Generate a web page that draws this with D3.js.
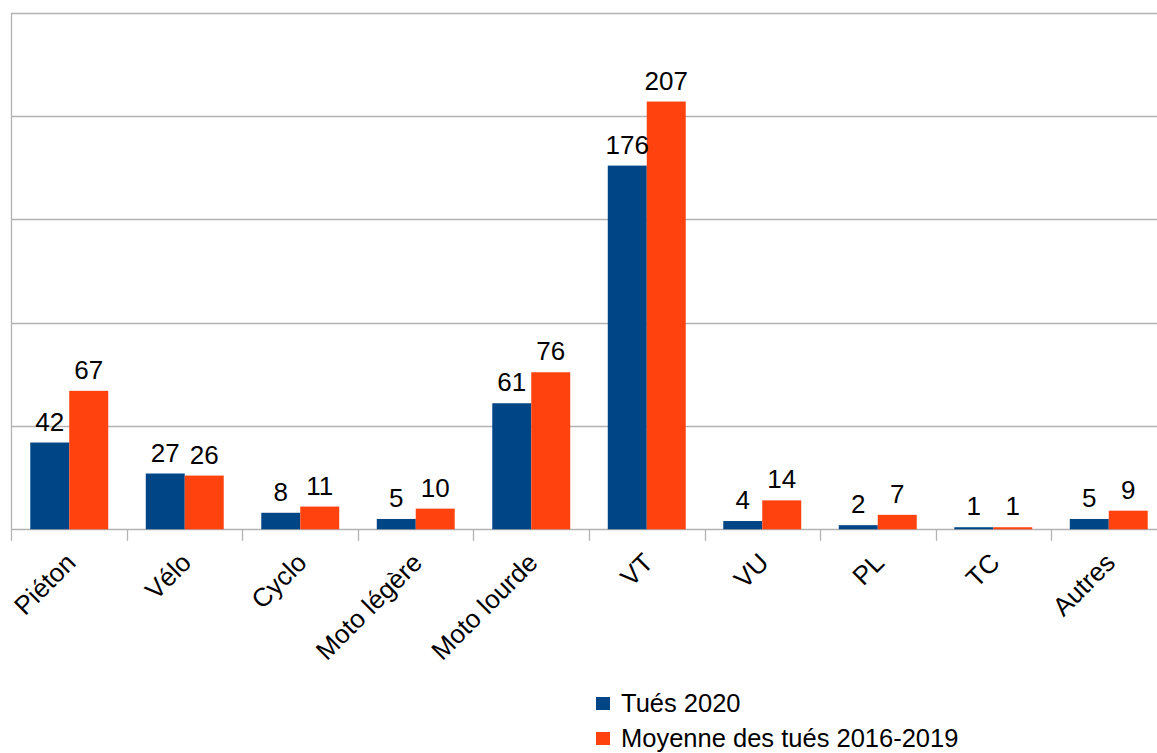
<!DOCTYPE html>
<html>
<head>
<meta charset="utf-8">
<script src="https://cdn.jsdelivr.net/npm/d3@7"></script>
<style>
  html, body { margin: 0; padding: 0; background: #ffffff; }
  svg { display: block; }
  text { font-family: "Liberation Sans", Arial, sans-serif; fill: #000; }
</style>
</head>
<body>
<svg id="chart" width="1157" height="753"></svg>
<script>
// Road deaths by user category
const categories = ["Piéton", "Vélo", "Cyclo", "Moto légère", "Moto lourde", "VT", "VU", "PL", "TC", "Autres"];
const tues2020 = [42, 27, 8, 5, 61, 176, 4, 2, 1, 5];
const moyenne2016_2019 = [67, 26, 11, 10, 76, 207, 14, 7, 1, 9];
const seriesNames = ["Tués 2020", "Moyenne des tués 2016-2019"];
const seriesColors = ["#004586", "#ff420e"];
const yTicks = [0, 50, 100, 150, 200, 250];

const svg = d3.select("#chart");
const plot = { left: 11.5, right: 1166.5, top: 12.7, bottom: 529.3 };

const y = d3.scaleLinear().domain([0, 250]).range([plot.bottom, plot.top]);
const padIn = 0.325;
const x0 = d3.scaleBand().domain(categories)
  .range([plot.left, plot.right])
  .paddingInner(padIn).paddingOuter(padIn / 2);
const x1 = d3.scaleBand().domain(seriesNames).range([0, x0.bandwidth()]);

// horizontal gridlines
svg.append("g").selectAll("line").data(yTicks).join("line")
  .attr("x1", plot.left).attr("x2", plot.right)
  .attr("y1", d => Math.round(y(d)) + 0.5).attr("y2", d => Math.round(y(d)) + 0.5)
  .attr("stroke", "#b3b3b3").attr("stroke-width", 1.3);

// left axis line
svg.append("line")
  .attr("x1", plot.left).attr("x2", plot.left)
  .attr("y1", y(250)).attr("y2", y(0))
  .attr("stroke", "#b3b3b3").attr("stroke-width", 1.3);

// category boundary ticks below the baseline
const gap = x0.step() - x0.bandwidth();
const boundaries = categories.map(c => x0(c) - gap / 2);
svg.append("g").selectAll("line").data(boundaries).join("line")
  .attr("x1", d => Math.round(d) + 0.5).attr("x2", d => Math.round(d) + 0.5)
  .attr("y1", y(0)).attr("y2", y(0) + 11.5)
  .attr("stroke", "#b3b3b3").attr("stroke-width", 1.3);

// bars
const rows = categories.map((c, i) => ({ cat: c, vals: [tues2020[i], moyenne2016_2019[i]] }));
const groups = svg.append("g").selectAll("g").data(rows).join("g")
  .attr("transform", d => `translate(${x0(d.cat)},0)`);

groups.selectAll("rect").data(d => d.vals.map((v, j) => ({ v, s: seriesNames[j], j }))).join("rect")
  .attr("x", d => x1(d.s))
  .attr("width", x1.bandwidth())
  .attr("y", d => y(d.v))
  .attr("height", d => y(0) - y(d.v))
  .attr("fill", d => seriesColors[d.j]);

// value labels
groups.selectAll("text").data(d => d.vals.map((v, j) => ({ v, s: seriesNames[j], j }))).join("text")
  .attr("x", d => x1(d.s) + x1.bandwidth() / 2)
  .attr("y", d => y(d.v) - 12)
  .attr("text-anchor", "middle")
  .style("font-size", "26px")
  .text(d => d.v);

// rotated category labels
svg.append("g").selectAll("text").data(categories).join("text")
  .attr("transform", d => `translate(${x0(d) + x0.bandwidth() / 2 + 8},${y(0) + 35}) rotate(-45)`)
  .attr("text-anchor", "end")
  .style("font-size", "26px")
  .text(d => d);

// legend
const legend = svg.append("g").selectAll("g").data(seriesNames).join("g")
  .attr("transform", (d, i) => `translate(596,${697 + i * 35})`);
legend.append("rect").attr("width", 14).attr("height", 13)
  .attr("fill", (d, i) => seriesColors[i]);
legend.append("text").attr("x", 25).attr("y", 15)
  .style("font-size", "25.5px")
  .text(d => d);
</script>
</body>
</html>
